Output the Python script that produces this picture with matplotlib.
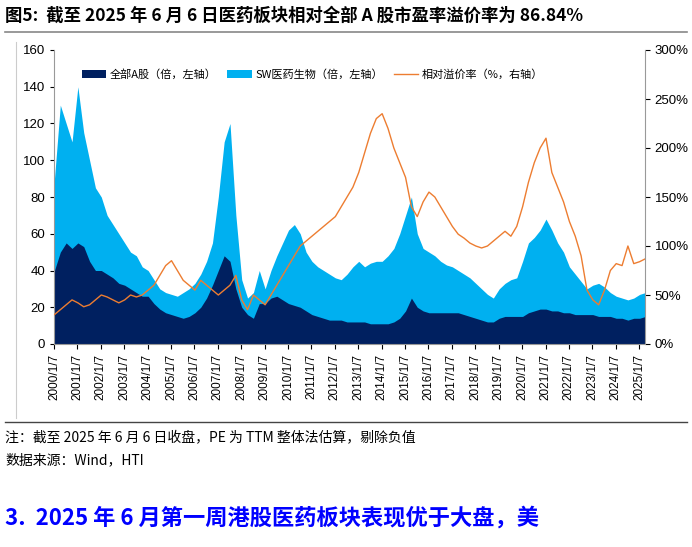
import matplotlib
matplotlib.use("Agg")
import matplotlib.pyplot as plt
import numpy as np

plt.rcParams["font.family"] = ["Noto Sans CJK SC", "DejaVu Sans"]

# quarterly samples, 2000Q1 .. 2025Q2
quarters = [f"{y}Q{q}" for y in range(2000, 2026) for q in range(1, 5)][:102]
all_a = [40, 50, 55, 52, 55, 53, 45, 40, 40, 38, 36, 33, 32, 30, 28, 26,
         26, 22, 19, 17, 16, 15, 14, 15, 17, 20, 25, 32, 40, 48, 45, 30,
         20, 16, 14, 22,
         22, 25, 26, 24, 22, 21, 20, 18, 16, 15, 14, 13, 13, 13, 12, 12,
         12, 12, 11, 11, 11, 11, 12, 14, 18, 25, 20, 18, 17, 17, 17, 17,
         17, 17, 16, 15, 14, 13, 12, 12, 14, 15, 15, 15, 15, 17, 18, 19,
         19, 18, 18, 17, 17, 16, 16, 16, 16, 15, 15, 15, 14, 14, 13, 14,
         14, 15]
sw_pharma = [90, 130, 120, 110, 140, 115, 100, 85, 80, 70, 65, 60, 55, 50, 48, 42,
             40, 35, 30, 28, 27, 26, 28, 30, 33, 38, 45, 55, 80, 110, 120, 70,
             35, 25, 28, 40,
             30, 40, 48, 55, 62, 65, 60, 50, 45, 42, 40, 38, 36, 35, 38, 42,
             45, 42, 44, 45, 45, 48, 52, 60, 70, 80, 60, 52, 50, 48, 45, 43,
             42, 40, 38, 36, 33, 30, 27, 25, 30, 33, 35, 36, 45, 55, 58, 62,
             68, 62, 55, 50, 42, 38, 34, 30, 32, 33, 31, 28, 26, 25, 24, 25,
             27, 28]
premium = [30, 35, 40, 45, 42, 38, 40, 45, 50, 48, 45, 42, 45, 50, 48, 50,
           55, 60, 70, 80, 85, 75, 65, 60, 55, 65, 60, 55, 50, 55, 60, 70,
           45, 35, 50, 45,
           40, 50, 60, 70, 80, 90, 100, 105, 110, 115, 120, 125, 130, 140, 150, 160,
           175, 195, 215, 230, 235, 220, 200, 185, 170, 140, 130, 145, 155, 150, 140, 130,
           120, 112, 108, 103, 100, 98, 100, 105, 110, 115, 110, 120, 140, 165, 185, 200,
           210, 175, 160, 145, 125, 110, 90, 55, 45, 40, 55, 75, 82, 80, 100, 82,
           84, 87]
year_labels = [f"{y}/1/7" for y in range(2000, 2026)]

t = np.arange(len(quarters)) / 4.0 + 0.02

fig = plt.figure(figsize=(6.92, 5.47), dpi=100)
W, H = 692, 547
ax = fig.add_axes([54 / W, 1 - 344 / H, (645 - 54) / W, (344 - 50) / H])
ax.fill_between(t, 0, sw_pharma, color="#00B0F0", lw=0, label="SW医药生物（倍，左轴）")
ax.fill_between(t, 0, all_a, color="#002060", lw=0, label="全部A股（倍，左轴）")
ax.set_xlim(0, 25.25)
ax.set_ylim(0, 160)
ax.set_yticks(range(0, 161, 20))
ax.set_xticks(np.arange(26))
ax.set_xticklabels(year_labels, rotation=90, fontsize=8.5, fontfamily="Liberation Sans")
ax.tick_params(axis="y", labelsize=9.5, length=3)
for lab in ax.get_yticklabels():
    lab.set_fontfamily("Liberation Sans")
for s in ["top", "right"]:
    ax.spines[s].set_visible(False)
ax.spines["left"].set_color("#999999")
ax.spines["bottom"].set_color("#999999")

ax2 = ax.twinx()
ax2.plot(t, premium, color="#ED7D31", lw=1.0, label="相对溢价率（%，右轴）")
ax2.set_ylim(0, 300)
ax2.set_yticks(range(0, 301, 50))
ax2.set_yticklabels([f"{v}%" for v in range(0, 301, 50)], fontsize=9.5, fontfamily="Liberation Sans")
for s in ["top", "left", "bottom"]:
    ax2.spines[s].set_visible(False)
ax2.spines["right"].set_color("#999999")

h1, l1 = ax.get_legend_handles_labels()
h2, l2 = ax2.get_legend_handles_labels()
ax.legend([h1[1], h1[0], h2[0]], [l1[1], l1[0], l2[0]], loc="upper left",
          bbox_to_anchor=(0.03, 0.97), ncol=3, frameon=False, fontsize=8,
          handlelength=2.2, columnspacing=1.0, handletextpad=0.3)

fig.text(5 / W, 1 - 16 / H, "图5:  截至 2025 年 6 月 6 日医药板块相对全部 A 股市盈率溢价率为 86.84%",
         fontsize=12.5, fontweight="bold", va="center")
fig.add_artist(plt.Line2D([5 / W, 687 / W], [1 - 32 / H] * 2, color="#888888", lw=1.2))
fig.add_artist(plt.Line2D([16 / W, 16 / W], [1 - 42 / H, 1 - 418 / H], color="#cccccc", lw=0.8))
fig.add_artist(plt.Line2D([5 / W, 687 / W], [1 - 422 / H] * 2, color="#444444", lw=1.0))
fig.text(5 / W, 1 - 437 / H, "注：截至 2025 年 6 月 6 日收盘，PE 为 TTM 整体法估算，剔除负值",
         fontsize=10, va="center")
fig.text(5 / W, 1 - 460 / H, "数据来源：Wind，HTI", fontsize=10, va="center")
fig.text(5 / W, 1 - 518 / H, "3.  2025 年 6 月第一周港股医药板块表现优于大盘，美",
         fontsize=16, fontweight="bold", color="#0000FF", va="center")

fig.savefig("out.png", dpi=100)
